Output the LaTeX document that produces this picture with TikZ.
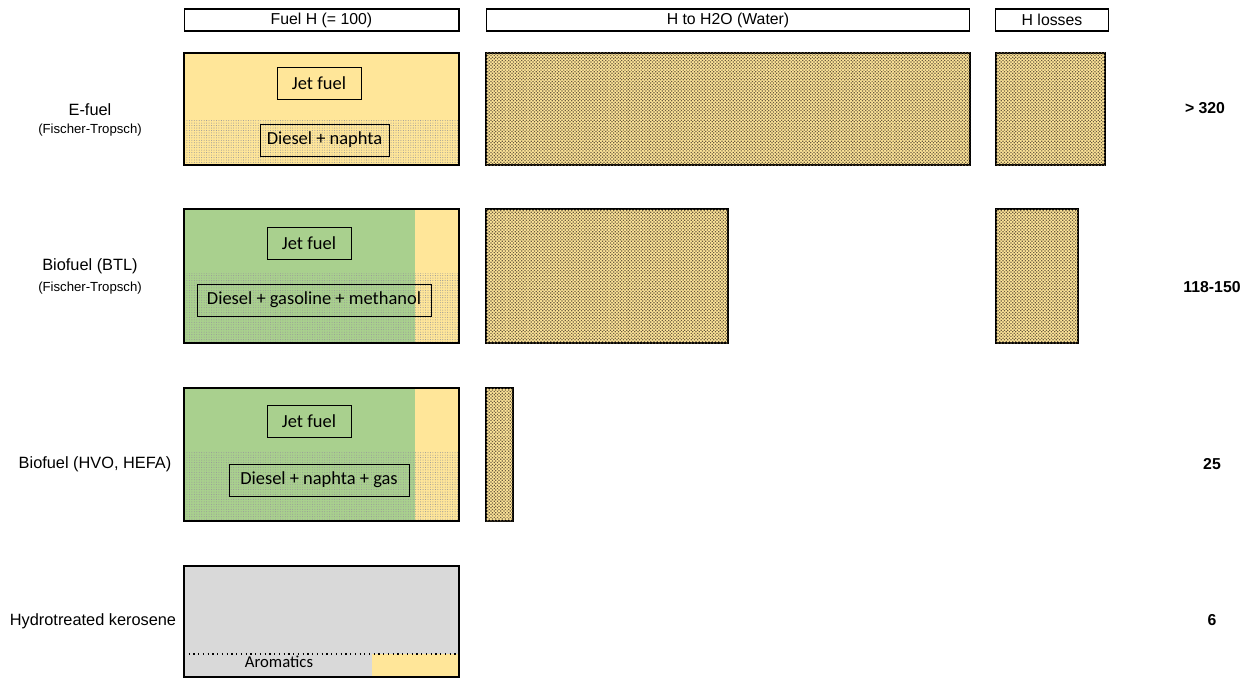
\documentclass[tikz,border=0pt]{standalone}
\usepackage{fontspec}
\setmainfont{Liberation Sans}
\newfontfamily\boxfont{Carlito}
\usetikzlibrary{patterns.meta}
\definecolor{fuelyellow}{HTML}{FFE699}
\definecolor{biogreen}{HTML}{A9D08E}
\definecolor{kerogray}{HTML}{D9D9D9}
\definecolor{waterdot}{HTML}{6B5B40}
\begin{document}
\begin{tikzpicture}[x=0.02cm, y=-0.02cm,
	head/.style={
		draw,
		line width=0.6pt,
		inner sep=0pt,
		minimum height=0.44cm,
		font=\fontsize{9}{10}\selectfont
	},
	frame/.style={draw, line width=1.3pt},
	tag/.style={
		draw,
		line width=0.5pt,
		inner sep=0pt,
		minimum height=0.64cm,
		font=\boxfont\fontsize{10.5}{12}\selectfont
	},
	lowdots/.style={pattern={Dots[distance=1.4pt,radius=0.3pt]}, pattern color=black!40},
	water/.style={fill=fuelyellow, postaction={pattern={Dots[distance=1.3pt,radius=0.5pt,angle=45]}, pattern color=waterdot}},
	rowlabel/.style={font=\fontsize{9.3}{11}\selectfont},
	sublabel/.style={font=\fontsize{7.5}{9}\selectfont},
	result/.style={font=\bfseries\fontsize{9}{11}\selectfont}
	]
	\useasboundingbox (0,0) rectangle (1247,679);
	
	%Kopfzeile
	\node[head, minimum width=5.5cm]  (fuelH)  at (321.5,20) {Fuel H (= 100)};
	\node[head, minimum width=9.68cm] (water)  at (728,20)   {H to H2O (Water)};
	\node[head, minimum width=2.26cm] (loss)   at (1052,20)  {H losses};
	
	%E-fuel
	\fill[fuelyellow] (184,53) rectangle (459,165);
	\fill[lowdots] (184,120) rectangle (459,165);
	\draw[frame] (184,53) rectangle (459,165);
	\node[tag, minimum width=1.68cm] (jet1) at (319,83) {Jet fuel};
	\node[tag, minimum width=2.58cm] (dsl1) at (324.5,140) {Diesel + naphta};
	\draw[frame, water] (486,53) rectangle (970,165);
	\draw[frame, water] (996,53) rectangle (1105,165);
	\node[rowlabel] (efuel) at (90,110) {E-fuel};
	\node[sublabel] (ft1)   at (90,130) {(Fischer-Tropsch)};
	\node[result]   (res1)  at (1205,108) {> 320};
	
	%Biofuel BTL
	\fill[biogreen] (184,209) rectangle (415,343);
	\fill[fuelyellow] (415,209) rectangle (459,343);
	\fill[lowdots] (184,273) rectangle (459,343);
	\draw[frame] (184,209) rectangle (459,343);
	\node[tag, minimum width=1.68cm] (jet2) at (309,243) {Jet fuel};
	\node[tag, minimum width=4.68cm] (dsl2) at (314,300) {Diesel + gasoline + methanol};
	\draw[frame, water] (486,209) rectangle (728,343);
	\draw[frame, water] (996,209) rectangle (1078,343);
	\node[rowlabel] (btl) at (90,266) {Biofuel (BTL)};
	\node[sublabel] (ft2) at (90,288) {(Fischer-Tropsch)};
	\node[result]   (res2) at (1212,287) {118-150};
	
	%Biofuel HVO
	\fill[biogreen] (184,388) rectangle (415,521);
	\fill[fuelyellow] (415,388) rectangle (459,521);
	\fill[lowdots] (184,452) rectangle (459,521);
	\draw[frame] (184,388) rectangle (459,521);
	\node[tag, minimum width=1.68cm] (jet3) at (309,421) {Jet fuel};
	\node[tag, minimum width=3.6cm]  (dsl3) at (319,480) {Diesel + naphta + gas};
	\draw[frame, water] (486,388) rectangle (513,521);
	\node[rowlabel] (hvo)  at (95,464) {Biofuel (HVO, HEFA)};
	\node[result]   (res3) at (1212,464) {25};
	
	%Kerosin
	\fill[kerogray] (184,566) rectangle (459,677);
	\fill[fuelyellow] (372,654) rectangle (459,677);
	\draw[line width=0.7pt, dotted] (184,654) -- (459,654);
	\draw[frame] (184,566) rectangle (459,677);
	\node[font=\boxfont\fontsize{9.5}{11}\selectfont] (arom) at (279,662) {Aromatics};
	\node[rowlabel] (kero) at (93,621) {Hydrotreated kerosene};
	\node[result]   (res4) at (1212,620) {6};
\end{tikzpicture}
\end{document}
